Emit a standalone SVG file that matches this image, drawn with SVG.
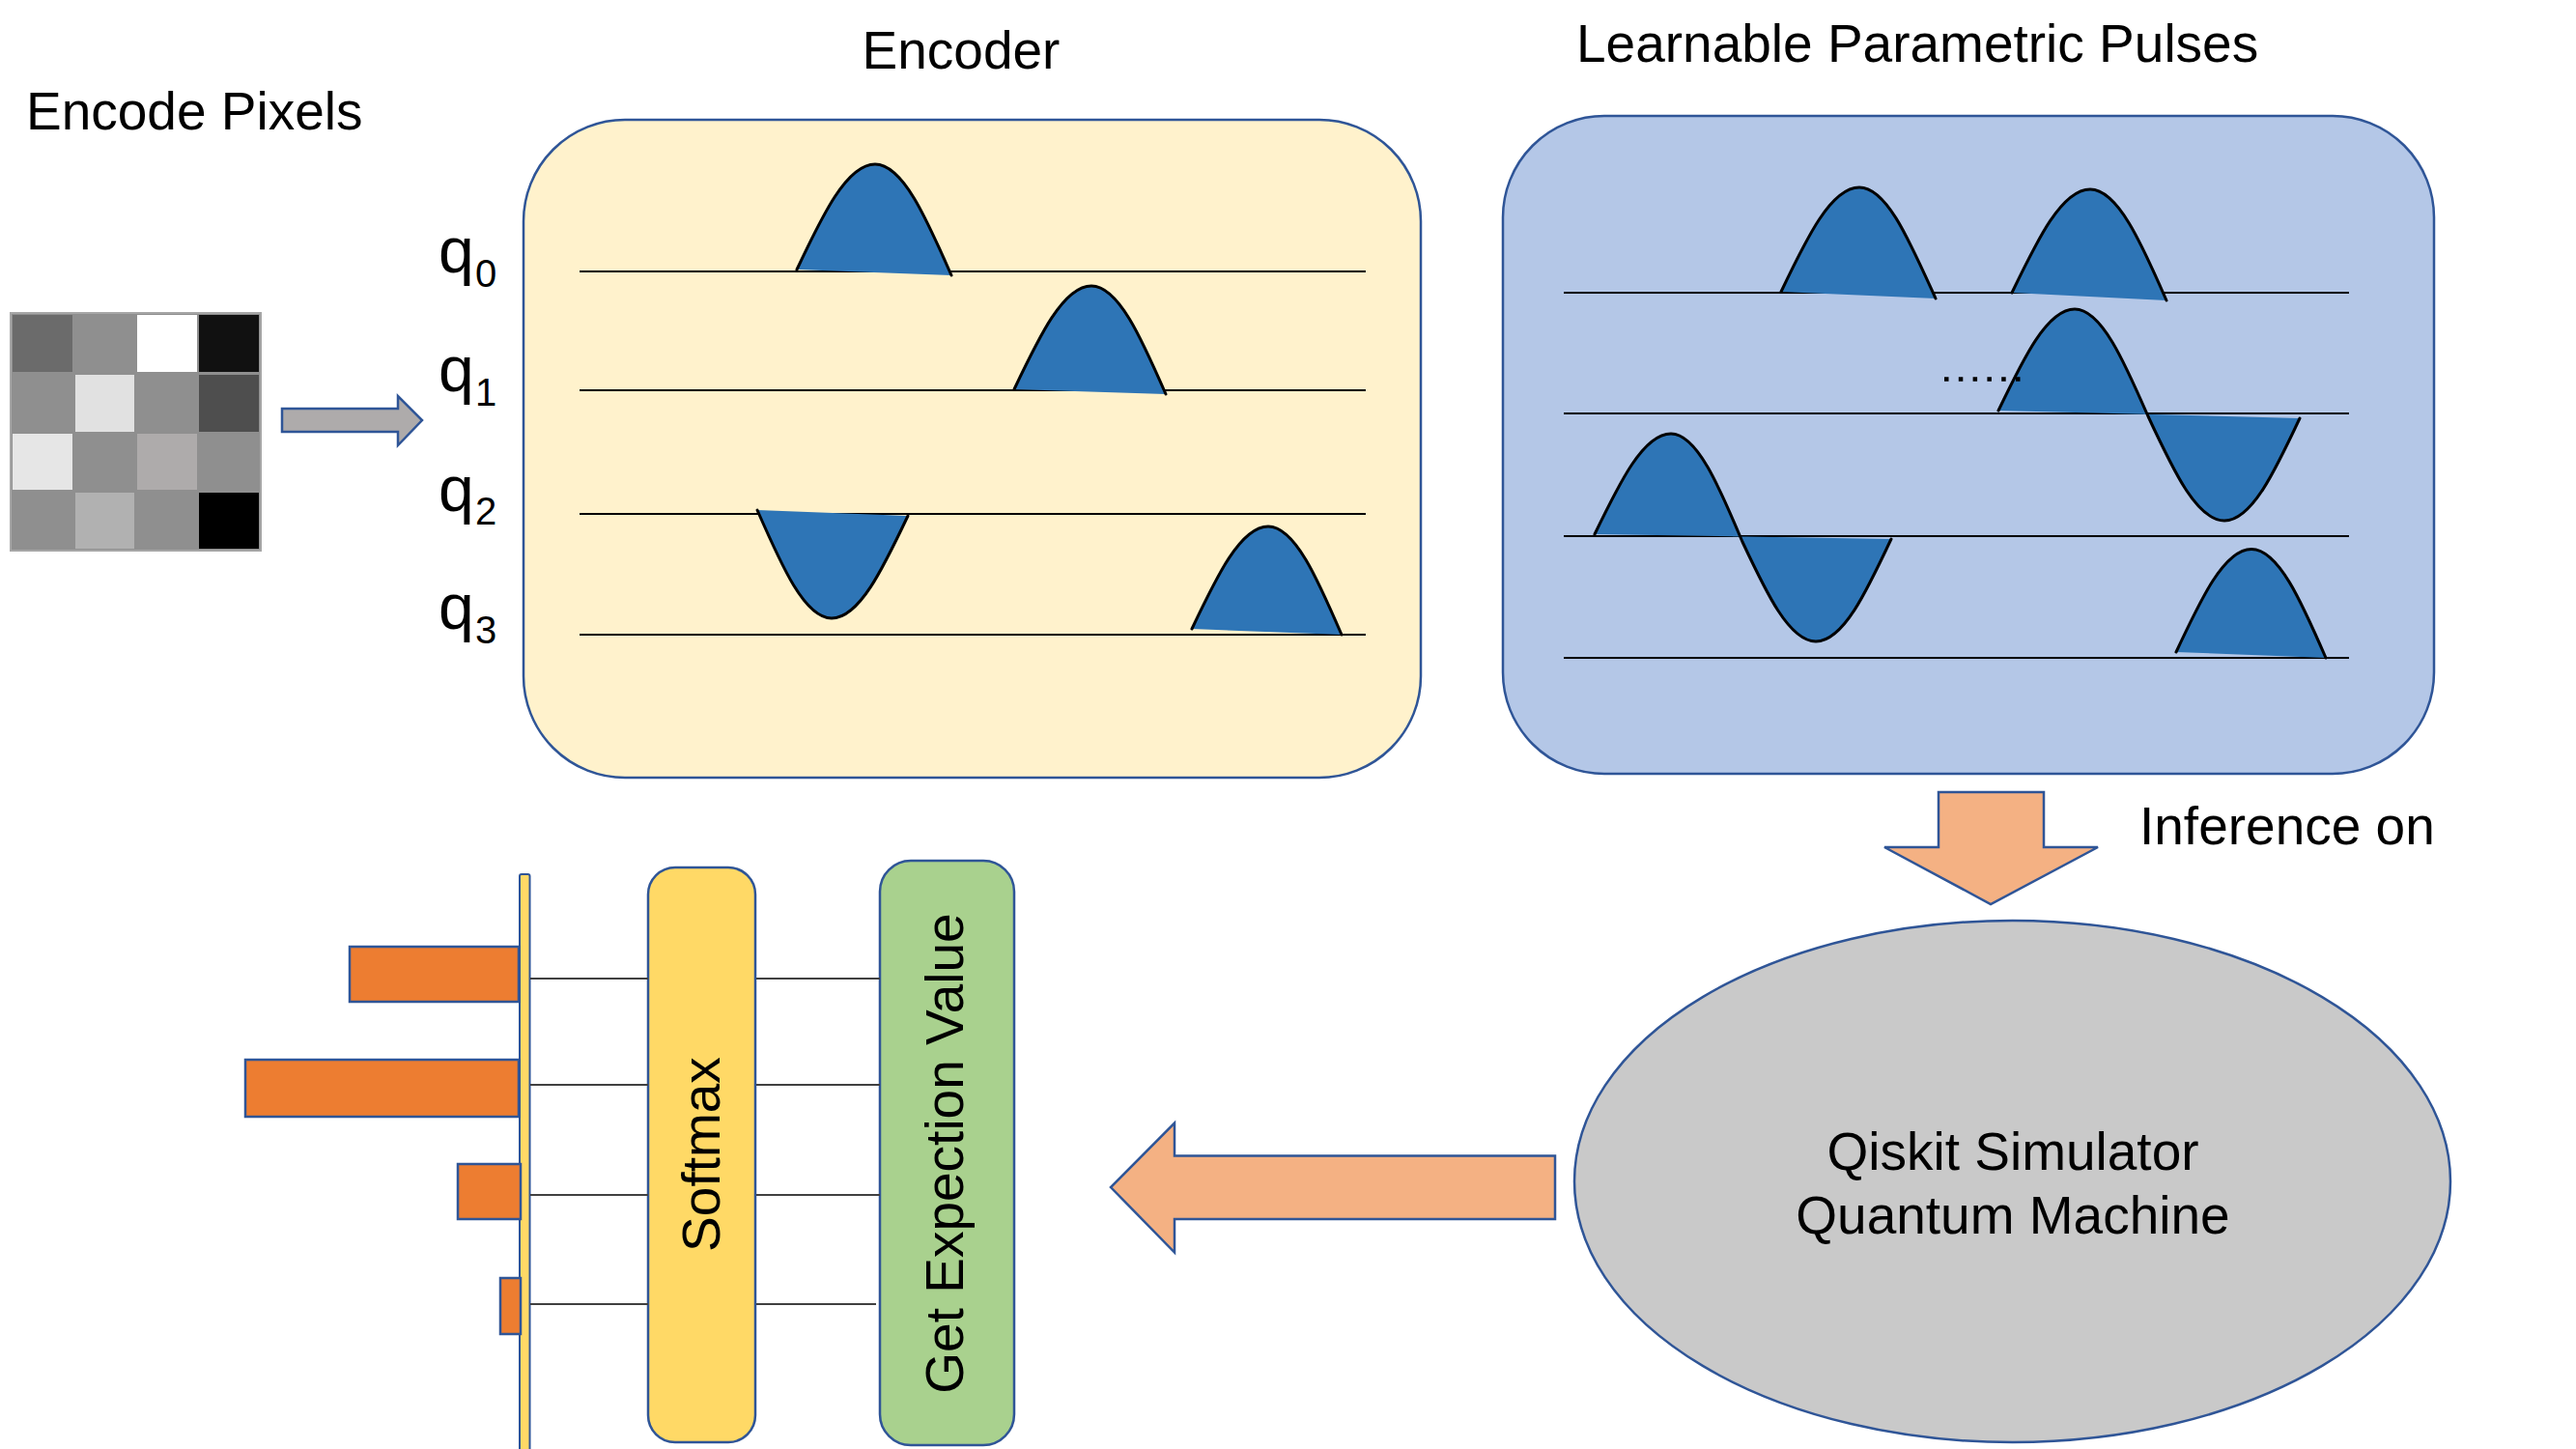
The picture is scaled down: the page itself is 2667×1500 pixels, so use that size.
<svg xmlns="http://www.w3.org/2000/svg" width="2667" height="1500" viewBox="0 0 2667 1500">
<style>
.t{font-family:"Liberation Sans",Arial,sans-serif;font-size:55px;fill:#000}
.q{font-family:"Liberation Sans",Arial,sans-serif;font-size:66px;fill:#000}
.sub{font-size:40px}
.box{stroke:#2F5597;stroke-width:2.5}
.wire{stroke:#000;stroke-width:2;fill:none}
.bwire{stroke:#404040;stroke-width:2;fill:none}
.pf{fill:#2E75B6;stroke:none}
.pc{fill:none;stroke:#000;stroke-width:3;stroke-linecap:round}
.orange{fill:#F4B183;stroke:#2F5597;stroke-width:2.5}
.bar{fill:#ED7D31;stroke:#2F5597;stroke-width:2.5}
</style>
<rect width="2667" height="1500" fill="#fff"/>

<g id="pixels">
<rect x="11" y="324" width="259" height="246" fill="#8f8f8f" stroke="#a6a6a6" stroke-width="2"/>
<rect x="13" y="326" width="62" height="59" fill="#6b6b6b"/>
<rect x="77" y="326" width="62" height="59" fill="#8f8f8f"/>
<rect x="142" y="326" width="62" height="59" fill="#ffffff"/>
<rect x="206" y="326" width="62" height="59" fill="#111111"/>
<rect x="13" y="388" width="62" height="59" fill="#8f8f8f"/>
<rect x="78" y="388" width="61" height="59" fill="#e1e1e1"/>
<rect x="142" y="388" width="62" height="59" fill="#8f8f8f"/>
<rect x="206" y="388" width="62" height="59" fill="#4e4e4e"/>
<rect x="13" y="449" width="62" height="58" fill="#e6e6e6"/>
<rect x="77" y="449" width="62" height="58" fill="#8f8f8f"/>
<rect x="142" y="449" width="62" height="58" fill="#aeabab"/>
<rect x="206" y="449" width="62" height="58" fill="#8f8f8f"/>
<rect x="13" y="510" width="62" height="58" fill="#8f8f8f"/>
<rect x="78" y="510" width="61" height="58" fill="#b1b1b1"/>
<rect x="142" y="510" width="62" height="58" fill="#8f8f8f"/>
<rect x="206" y="510" width="62" height="58" fill="#000000"/>
</g>
<text class="t" x="27" y="134">Encode Pixels</text>

<g id="encoder">
<text class="t" x="995" y="71" text-anchor="middle">Encoder</text>
<rect class="box" x="542" y="124" width="929" height="681" rx="105" ry="105" fill="#FFF2CC"/>
<path class="wire" d="M600 281H1414M600 404H1414M600 532H1414M600 657H1414"/>
<path class="pf" d="M825 279C851.4 223.1 876.7 170 906 170C934.6 170 959.2 226.1 985 285Z"/>
<path class="pc" d="M825 279C851.4 223.1 876.7 170 906 170C934.6 170 959.2 226.1 985 285"/>
<path class="pf" d="M1050 403C1076.1 348.2 1101 296 1130 296C1157.9 296 1181.9 350.6 1207 408Z"/>
<path class="pc" d="M1050 403C1076.1 348.2 1101 296 1130 296C1157.9 296 1181.9 350.6 1207 408"/>
<path class="pf" d="M784 528C809.1 585.4 833.1 640 861 640C889.6 640 914.2 588.3 940 534Z"/>
<path class="pc" d="M784 528C809.1 585.4 833.1 640 861 640C889.6 640 914.2 588.3 940 534"/>
<path class="pf" d="M1234 651C1259.8 596.7 1284.4 545 1313 545C1340.5 545 1364.2 599.6 1389 657Z"/>
<path class="pc" d="M1234 651C1259.8 596.7 1284.4 545 1313 545C1340.5 545 1364.2 599.6 1389 657"/>
</g>
<g id="qlabels">
<text class="q" x="454" y="282">q<tspan class="sub" x="492" y="297">0</tspan></text>
<text class="q" x="454" y="405">q<tspan class="sub" x="492" y="420">1</tspan></text>
<text class="q" x="454" y="529">q<tspan class="sub" x="492" y="543">2</tspan></text>
<text class="q" x="454" y="651">q<tspan class="sub" x="492" y="666">3</tspan></text>
</g>

<g id="pulses">
<text class="t" x="1632" y="64">Learnable Parametric Pulses</text>
<rect class="box" x="1556" y="120" width="964" height="681" rx="105" ry="105" fill="#B4C7E7"/>
<path class="wire" d="M1619 303H2432M1619 428H2432M1619 555H2432M1619 681H2432"/>
<path class="pf" d="M1844 302C1870.4 246.6 1895.7 194 1925 194C1953.6 194 1977.2 250.1 2004 309Z"/>
<path class="pc" d="M1844 302C1870.4 246.6 1895.7 194 1925 194C1953.6 194 1977.2 250.1 2004 309"/>
<path class="pf" d="M2083 303C2109.4 248.2 2134.7 196 2164 196C2192.6 196 2217.2 252.1 2243 311Z"/>
<path class="pc" d="M2083 303C2109.4 248.2 2134.7 196 2164 196C2192.6 196 2217.2 252.1 2243 311"/>
<path class="pf" d="M2069 425C2094.8 371.2 2119.4 320 2148 320C2175.5 320 2199.2 374.1 2224 431C2249.8 486.4 2274.4 539 2303 539C2331.2 539 2355.5 487.3 2381 433Z"/>
<path class="pc" d="M2069 425C2094.8 371.2 2119.4 320 2148 320C2175.5 320 2199.2 374.1 2224 431C2249.8 486.4 2274.4 539 2303 539C2331.2 539 2355.5 487.3 2381 433"/>
<path class="pf" d="M1651 553C1676.8 499.7 1701.4 449 1730 449C1756.8 449 1779.9 503.6 1804 561C1828.8 613.8 1852.5 664 1880 664C1908.2 664 1932.5 612.3 1958 558Z"/>
<path class="pc" d="M1651 553C1676.8 499.7 1701.4 449 1730 449C1756.8 449 1779.9 503.6 1804 561C1828.8 613.8 1852.5 664 1880 664C1908.2 664 1932.5 612.3 1958 558"/>
<path class="pf" d="M2253 675C2278.5 620.4 2302.8 568.5 2331 568.5C2358.9 568.5 2382.9 623.3 2408 681Z"/>
<path class="pc" d="M2253 675C2278.5 620.4 2302.8 568.5 2331 568.5C2358.9 568.5 2382.9 623.3 2408 681"/>
<path d="M2013 392.5H2093" stroke="#000" stroke-width="4.5" stroke-dasharray="4.5 10.3" fill="none"/>
</g>

<g id="qiskit">
<ellipse class="box" cx="2083.5" cy="1223" rx="453.5" ry="270" fill="#C9C9C9"/>
<text class="t" x="2084" y="1211" text-anchor="middle">Qiskit Simulator</text>
<text class="t" x="2084" y="1277" text-anchor="middle">Quantum Machine</text>
</g>
<text class="t" x="2215" y="874">Inference on</text>

<g id="softmax">
<rect class="box" x="671" y="898" width="111" height="595" rx="28" ry="28" fill="#FFD966"/>
<text class="t" transform="translate(745,1195) rotate(-90)" text-anchor="middle">Softmax</text>
</g>
<g id="expectation">
<rect class="box" x="911" y="891" width="139" height="605" rx="32" ry="32" fill="#A9D18E"/>
<text class="t" transform="translate(997,1194) rotate(-90)" text-anchor="middle">Get Expection Value</text>
</g>
<g id="histogram">
<rect x="538" y="905" width="10.5" height="605" rx="2" fill="#FFD966" stroke="#2F5597" stroke-width="2"/>
<rect class="bar" x="362" y="980" width="175" height="57"/>
<rect class="bar" x="254" y="1097" width="283" height="59"/>
<rect class="bar" x="474" y="1205" width="65" height="57"/>
<rect class="bar" x="518" y="1323" width="21" height="58"/>
</g>

<g id="connectors">
<polygon points="292,423 412,423 412,410 437,435 412,461 412,447 292,447" fill="#AEABAB" stroke="#2F5597" stroke-width="2.5"/>
<polygon class="orange" points="2007,820 2116,820 2116,877 2172,877 2061,936 1951,877 2007,877"/>
<polygon class="orange" points="1610,1196.5 1216,1196.5 1216,1162.5 1150,1229 1216,1296.5 1216,1262 1610,1262"/>
<path class="bwire" d="M549 1013H671M549 1123H671M549 1237H671M549 1350H671M783 1013H911M783 1123H911M783 1237H911M783 1350H907"/>
</g>
</svg>
